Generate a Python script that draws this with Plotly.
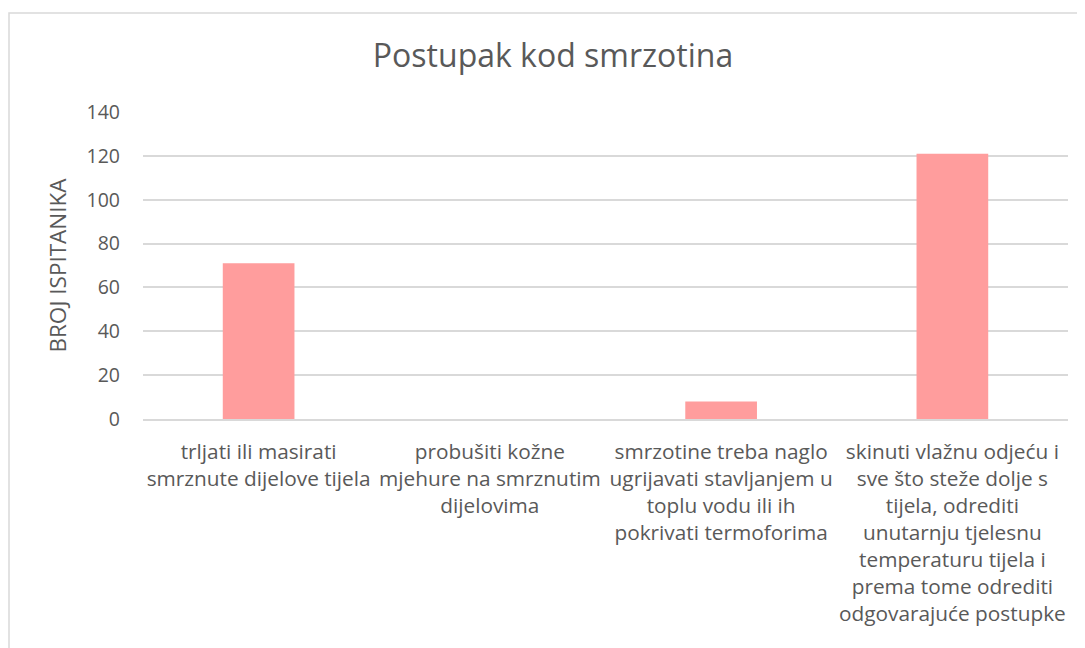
import plotly.graph_objects as go

categories = [
    "trljati ili masirati<br>smrznute dijelove tijela",
    "probušiti kožne<br>mjehure na smrznutim<br>dijelovima",
    "smrzotine treba naglo<br>ugrijavati stavljanjem u<br>toplu vodu ili ih<br>pokrivati termoforima",
    "skinuti vlažnu odjeću i<br>sve što steže dolje s<br>tijela, odrediti<br>unutarnju tjelesnu<br>temperaturu tijela i<br>prema tome odrediti<br>odgovarajuće postupke",
]
values = [71, 0, 8, 121]
y_ticks = [0, 20, 40, 60, 80, 100, 120, 140]

title_text = "Postupak kod smrzotina"
y_title = "BROJ ISPITANIKA"

FONT = "Open Sans, sans-serif"
GRAY = "#595959"

fig = go.Figure(
    go.Bar(
        x=list(range(len(categories))),
        y=values,
        marker=dict(color="#FF9D9D", line=dict(width=0)),
        hoverinfo="skip",
    )
)

# page has an 8px body margin; figure occupies screen x 8..1085, y 8..648
OFF = 8
W, H = 1085 - OFF, 648 - OFF
L, R, T, B = 143 - OFF, 17, 112 - OFF, 229
pw = W - L - R
ph = H - T - B

fig.update_layout(
    width=W,
    height=H,
    margin=dict(l=L, r=R, t=T, b=B, autoexpand=False),
    paper_bgcolor="white",
    plot_bgcolor="white",
    bargap=0.69,
    showlegend=False,
    font=dict(family=FONT, color=GRAY),
    title=dict(
        text=title_text,
        font=dict(family=FONT, size=32, color=GRAY),
        x=(553 - OFF - L) / pw,
        xref="paper",
        xanchor="center",
        y=1 - (56 - OFF) / H,
        yref="container",
        yanchor="middle",
    ),
    xaxis=dict(
        tickmode="array",
        tickvals=list(range(len(categories))),
        ticktext=categories,
        range=[-0.5, len(categories) - 0.5],
        showgrid=False,
        showline=True,
        linecolor="#D9D9D9",
        linewidth=1.5,
        ticks="",
        tickangle=0,
        tickfont=dict(family=FONT, size=20.8, color=GRAY),
        ticklabelstandoff=13,
        zeroline=False,
    ),
    yaxis=dict(
        range=[0, 140],
        tickmode="array",
        tickvals=y_ticks,
        showgrid=True,
        gridcolor="#D9D9D9",
        gridwidth=1.5,
        zeroline=False,
        showline=False,
        ticks="",
        tickfont=dict(family=FONT, size=19.5, color=GRAY),
        ticklabelstandoff=22,
        title=dict(text=y_title, font=dict(family=FONT, size=22.5, color=GRAY), standoff=13),
    ),
)

# chart frame (left and top edges visible; right and bottom lie outside the view)
fig.add_shape(
    type="rect",
    xref="paper", yref="paper",
    x0=(9 - OFF - L) / pw, x1=(W + 20 - L) / pw,
    y0=-(B + 20) / ph, y1=((H - B) - (13 - OFF)) / ph,
    line=dict(color="#D9D9D9", width=1.5),
    fillcolor="rgba(0,0,0,0)",
    layer="below",
)

fig.write_html("out.html")
